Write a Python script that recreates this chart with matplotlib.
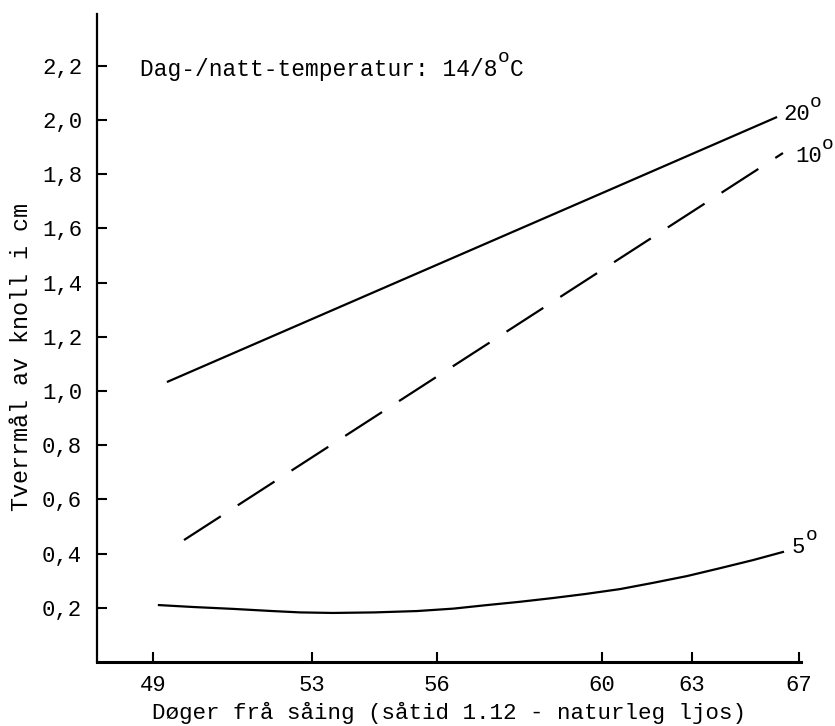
import numpy as np
import matplotlib
matplotlib.use("Agg")
import matplotlib.pyplot as plt
from matplotlib.scale import FuncScale

plt.rcParams['font.family'] = ['Liberation Mono', 'DejaVu Sans Mono']

# ---- data ----
tick_days = [49, 53, 56, 60, 63, 67]
tick_labels = ["49", "53", "56", "60", "63", "67"]
y_ticks = [0.2, 0.4, 0.6, 0.8, 1.0, 1.2, 1.4, 1.6, 1.8, 2.0, 2.2]
y_tick_labels = ["0,2", "0,4", "0,6", "0,8", "1,0", "1,2", "1,4", "1,6", "1,8", "2,0", "2,2"]

days_20 = [49.35, 60.0, 66.18]
vals_20 = [1.033, 1.73, 2.011]

days_10 = [49.78, 66.40]
vals_10 = [0.45, 1.878]

days_5 = [49.15, 50.0, 51.01, 52.0, 52.70, 53.5, 54.5, 55.52, 56.4, 57.21, 58.0, 58.81,
          59.6, 60.6, 61.7, 62.83, 64.0, 65.28, 66.40]
vals_5 = [0.210, 0.203, 0.196, 0.188, 0.183, 0.181, 0.183, 0.188, 0.197, 0.210, 0.222, 0.236,
          0.251, 0.269, 0.292, 0.317, 0.345, 0.376, 0.406]

series_labels = ["20", "10", "5"]
title_main, title_unit = "Dag-/natt-temperatur: 14/8", "C"
xlabel = "Døger frå såing (såtid 1.12 - naturleg ljos)"
ylabel = "Tverrmål av knoll i cm"

# ---- layout: the hand-drawn axis has uneven tick spacing ----
tick_screen = [153, 312, 437, 602, 692, 799]
ext_days = [40] + tick_days + [75]
ext_screen = [tick_screen[0] - 9 * (tick_screen[1] - tick_screen[0]) / 4] + tick_screen + \
             [tick_screen[-1] + 8 * (tick_screen[-1] - tick_screen[-2]) / 4]


def fwd(x):
    return np.interp(x, ext_days, ext_screen)


def inv(p):
    return np.interp(p, ext_screen, ext_days)


fig = plt.figure(figsize=(8.35, 7.26), dpi=100)
ax = fig.add_axes([97 / 835, 64 / 726, 704 / 835, 648 / 726])
ax.set_xscale(FuncScale(ax, (fwd, inv)))
ax.set_xlim(inv(97), inv(801))
ax.set_ylim(0, 2.391)

ax.plot(days_20, vals_20, color='black', lw=1.6, solid_capstyle='butt')
ax.plot(days_10, vals_10, color='black', lw=1.6, dashes=(19.7, 9.1))
ax.plot(days_5, vals_5, color='black', lw=1.6)


def degree_text(xy, dx, dy, main, after="", size=16.0, deg_size=14.0):
    """Monospace text followed by a raised 'o' degree mark (and optional trailing text)."""
    kw = dict(xycoords='data', textcoords='offset points', ha='left', va='baseline',
              annotation_clip=False)
    ax.annotate(main, xy, xytext=(dx, dy), fontsize=size, **kw)
    w = len(main) * 0.6 * size
    ax.annotate("o", xy, xytext=(dx + w + 0.2, dy + 0.6 * size), fontsize=deg_size, **kw)
    if after:
        ax.annotate(after, xy, xytext=(dx + w + 0.6 * deg_size + 0.2, dy), fontsize=size, **kw)


degree_text((days_20[-1], vals_20[-1]), 4.3, -2.2, series_labels[0])
degree_text((days_10[-1], vals_10[-1]), 8.6, -6.5, series_labels[1])
degree_text((days_5[-1], vals_5[-1]), 6.5, -0.7, series_labels[2])

degree_text((inv(140), 2.163), 0, 0, title_main, title_unit, size=16.5, deg_size=14.0)

ax.set_xticks(tick_days)
ax.set_xticklabels(tick_labels, fontsize=16)
ax.set_yticks(y_ticks)
ax.set_yticklabels(y_tick_labels, fontsize=16)
ax.tick_params(axis='both', direction='in', length=7, width=1.5, color='black')
ax.tick_params(axis='x', pad=9.5)
ax.tick_params(axis='y', pad=10.8)

for s in ['top', 'right']:
    ax.spines[s].set_visible(False)
ax.spines['left'].set_linewidth(1.6)
ax.spines['bottom'].set_linewidth(2.2)

ax.set_xlabel(xlabel, fontsize=16.2)
ax.xaxis.set_label_coords(0.5, -0.061)
ax.set_ylabel(ylabel, fontsize=16.8)
ax.yaxis.set_label_coords(-0.091, 0.47)

fig.savefig("out.png", dpi=100)
